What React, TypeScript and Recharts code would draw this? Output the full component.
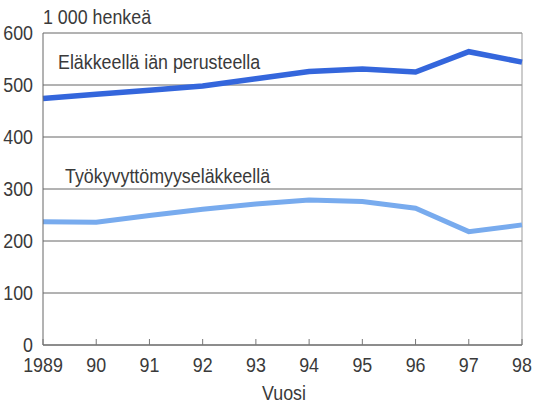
import { LineChart, Line, XAxis, YAxis, CartesianGrid, ReferenceLine } from "recharts";

const years = [1989, 1990, 1991, 1992, 1993, 1994, 1995, 1996, 1997, 1998];
const ageBased = [474, 482, 490, 498, 512, 526, 531, 525, 564, 544];
const disability = [237, 236, 249, 261, 271, 279, 276, 263, 218, 231];
const yTicks = [0, 100, 200, 300, 400, 500, 600];

const unitLabel = "1 000 henkeä";
const ageLabel = "Eläkkeellä iän perusteella";
const disabilityLabel = "Työkyvyttömyyseläkkeellä";
const xTitle = "Vuosi";

const data = years.map((year, i) => ({
  year,
  age: ageBased[i],
  disability: disability[i],
}));

// narrow look: Liberation Sans squeezed horizontally
const FONT = '"Liberation Sans", Arial, sans-serif';
const TEXT = "#3a3a3a";
const SQUEEZE = 0.87;

const yearLabel = (y: number) => (y === 1989 ? "1989" : String(y).slice(2));

const NText = ({ x, y, anchor = "start", dy, children }: any) => (
  <text
    transform={`translate(${x},${y}) scale(${SQUEEZE},1)`}
    x={0}
    y={0}
    dy={dy}
    textAnchor={anchor}
    fill={TEXT}
    fontSize={20.5}
    fontFamily={FONT}
  >
    {children}
  </text>
);

const XTick = (props: any) => {
  const { x, y, payload } = props;
  return (
    <g>
      <line x1={x} x2={x} y1={y - 6} y2={y} stroke="#777" strokeWidth={1} />
      <NText x={x} y={y + 27} anchor="middle">
        {yearLabel(payload.value)}
      </NText>
    </g>
  );
};

const YTick = (props: any) => {
  const { x, y, payload } = props;
  return (
    <NText x={x} y={y} anchor="end" dy="0.355em">
      {payload.value}
    </NText>
  );
};

const App = () => {
  return (
    <div style={{ position: "absolute", left: 0, top: 0, width: 533, height: 404, background: "#fff" }}>
      <LineChart
        width={533}
        height={404}
        data={data}
        margin={{ top: 33, right: 11, bottom: 0, left: 0 }}
      >
        <CartesianGrid vertical={false} stroke="#666" strokeWidth={1} />
        <XAxis
          dataKey="year"
          type="number"
          domain={[1989, 1998]}
          ticks={years}
          height={59}
          axisLine={{ stroke: "#666" }}
          tickLine={false}
          tickSize={0}
          tickMargin={0}
          tick={<XTick />}
          interval={0}
        />
        <YAxis
          domain={[0, 600]}
          ticks={yTicks}
          width={43}
          axisLine={{ stroke: "#666" }}
          tickLine={false}
          tickSize={0}
          tickMargin={10}
          tick={<YTick />}
          interval={0}
        />
        <ReferenceLine x={1998} stroke="#999" strokeWidth={1} />
        <Line
          dataKey="age"
          stroke="#3466dc"
          strokeWidth={5.5}
          dot={false}
          isAnimationActive={false}
        />
        <Line
          dataKey="disability"
          stroke="#78abee"
          strokeWidth={5}
          dot={false}
          isAnimationActive={false}
        />
        <NText x={43} y={24}>{unitLabel}</NText>
        <NText x={58} y={69}>{ageLabel}</NText>
        <NText x={65} y={183}>{disabilityLabel}</NText>
        <NText x={284} y={400} anchor="middle">{xTitle}</NText>
      </LineChart>
    </div>
  );
};

export default App;
